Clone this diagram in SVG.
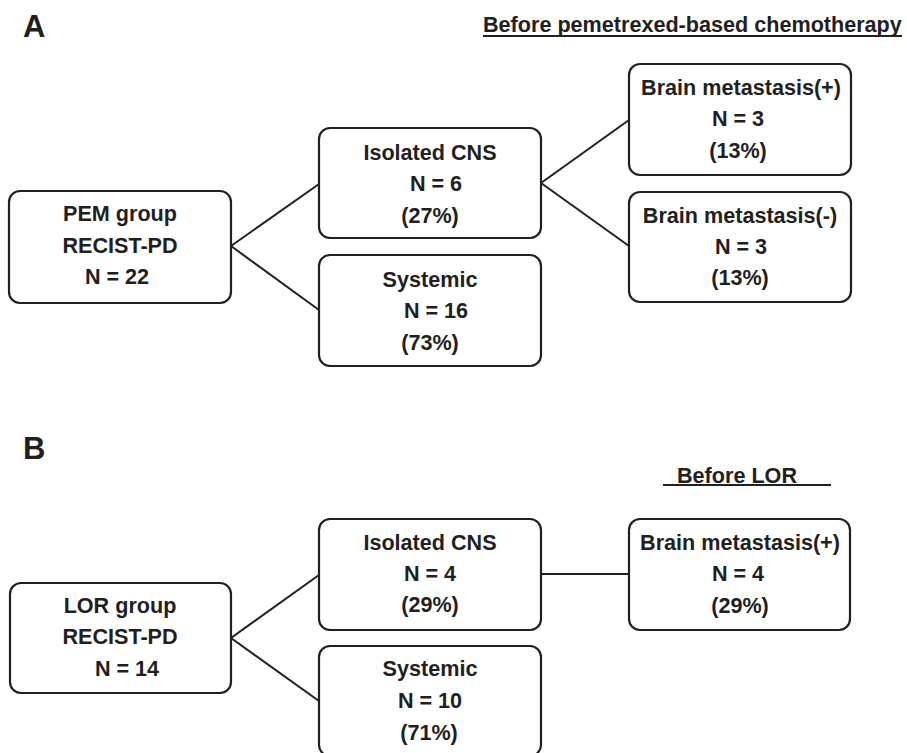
<svg xmlns="http://www.w3.org/2000/svg" width="907" height="753" viewBox="0 0 907 753">
<style>
.box{fill:#ffffff;stroke:#231f20;stroke-width:2.2}
.t{font-family:"Liberation Sans",Arial,sans-serif;font-weight:bold;font-size:21.6px;fill:#231f20;text-anchor:middle}
.lab{font-family:"Liberation Sans",Arial,sans-serif;font-weight:bold;font-size:31px;fill:#231f20}
.hd{font-family:"Liberation Sans",Arial,sans-serif;font-weight:bold;font-size:21.6px;fill:#231f20}
.c{stroke:#231f20;stroke-width:2;fill:none}
.ul{stroke:#231f20;stroke-width:2.2}
</style>
<rect width="907" height="753" fill="#ffffff"/>
<text class="lab" x="23" y="37">A</text>
<text class="hd" x="483" y="32">Before pemetrexed-based chemotherapy</text>
<line class="ul" x1="483" y1="36" x2="902" y2="36"/>
<text class="lab" x="23" y="459">B</text>
<text class="hd" x="677" y="483">Before LOR</text>
<line class="ul" x1="663" y1="485" x2="831" y2="485"/>
<g id="connectors">
<line class="c" x1="231" y1="246" x2="319" y2="184"/>
<line class="c" x1="231" y1="246" x2="319" y2="310"/>
<line class="c" x1="541" y1="183" x2="629" y2="120"/>
<line class="c" x1="541" y1="183" x2="629" y2="246"/>
<line class="c" x1="231" y1="638" x2="319" y2="575"/>
<line class="c" x1="231" y1="638" x2="319" y2="701"/>
<line class="c" x1="541" y1="574" x2="629" y2="574"/>
</g>
<g id="pem">
<rect class="box" x="9" y="191" width="222" height="112" rx="11"/>
<text class="t" x="120" y="221">PEM group</text>
<text class="t" x="120" y="253">RECIST-PD</text>
<text class="t" x="117" y="284">N = 22</text>
</g>
<g id="isoA">
<rect class="box" x="319" y="128" width="222" height="110" rx="11"/>
<text class="t" x="430" y="160">Isolated CNS</text>
<text class="t" x="436" y="191">N = 6</text>
<text class="t" x="430" y="223">(27%)</text>
</g>
<g id="sysA">
<rect class="box" x="319" y="255" width="222" height="111" rx="11"/>
<text class="t" x="430" y="287">Systemic</text>
<text class="t" x="436" y="318">N = 16</text>
<text class="t" x="430" y="350">(73%)</text>
</g>
<g id="bmpA">
<rect class="box" x="629" y="64" width="222" height="111" rx="11"/>
<text class="t" x="741" y="95">Brain metastasis(+)</text>
<text class="t" x="738" y="126">N = 3</text>
<text class="t" x="738" y="158">(13%)</text>
</g>
<g id="bmnA">
<rect class="box" x="629" y="192" width="222" height="110" rx="11"/>
<text class="t" x="740" y="223">Brain metastasis(-)</text>
<text class="t" x="741" y="254">N = 3</text>
<text class="t" x="740" y="285">(13%)</text>
</g>
<g id="lor">
<rect class="box" x="10" y="583" width="221" height="110" rx="11"/>
<text class="t" x="120" y="613">LOR group</text>
<text class="t" x="120" y="644">RECIST-PD</text>
<text class="t" x="127" y="676">N = 14</text>
</g>
<g id="isoB">
<rect class="box" x="319" y="519" width="222" height="111" rx="11"/>
<text class="t" x="430" y="550">Isolated CNS</text>
<text class="t" x="430" y="581">N = 4</text>
<text class="t" x="430" y="612">(29%)</text>
</g>
<g id="sysB">
<rect class="box" x="319" y="646" width="222" height="110" rx="11"/>
<text class="t" x="430" y="676">Systemic</text>
<text class="t" x="430" y="708">N = 10</text>
<text class="t" x="429" y="740">(71%)</text>
</g>
<g id="bmpB">
<rect class="box" x="629" y="519" width="221" height="111" rx="11"/>
<text class="t" x="740" y="550">Brain metastasis(+)</text>
<text class="t" x="738" y="581">N = 4</text>
<text class="t" x="740" y="613">(29%)</text>
</g>
</svg>
